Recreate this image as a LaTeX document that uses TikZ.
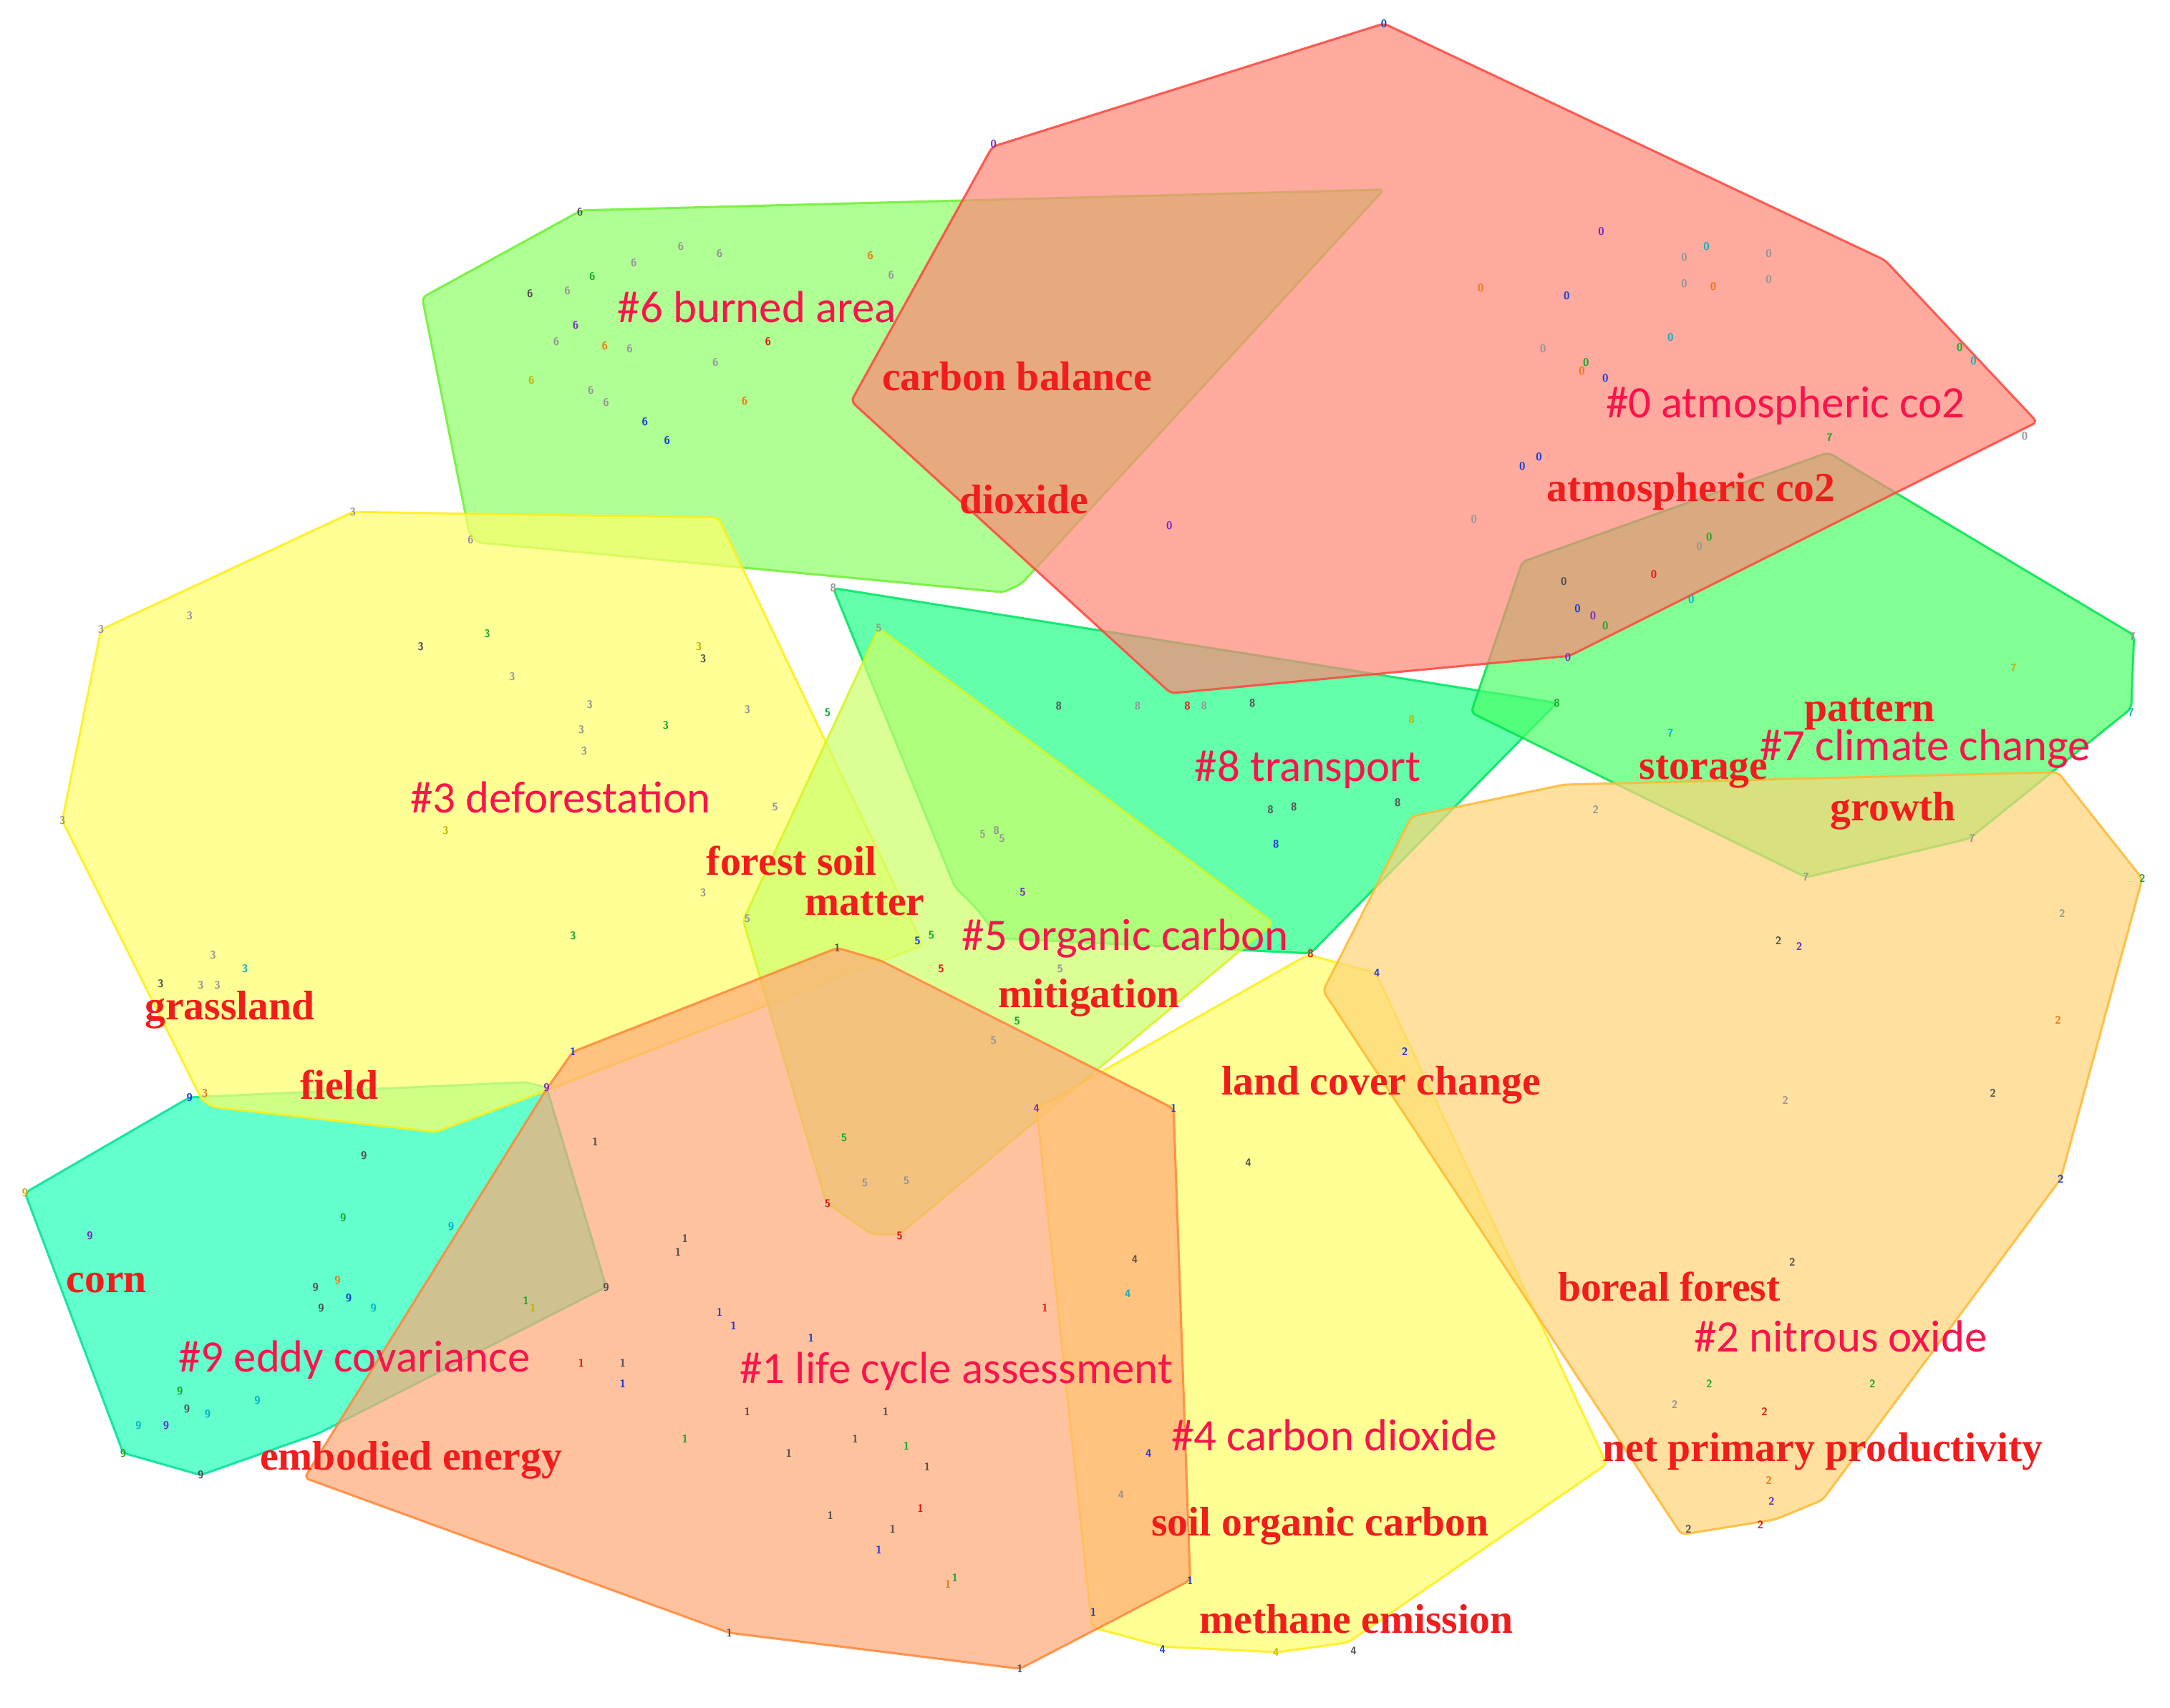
\documentclass[tikz,border=0pt]{standalone}
\usepackage{fontspec}
\newfontfamily\clfont{Carlito}
\newfontfamily\kwfont{Liberation Serif}
\begin{document}
\begin{tikzpicture}[x=0.02cm,y=-0.02cm,
  hull/.style={line width=0.9pt,rounded corners=2pt,fill opacity=0.7,draw opacity=0.85},
  cl/.style={text=clred,font=\clfont\fontsize{18.5}{20}\selectfont,inner sep=0pt},
  kw/.style={text=kwred,font=\kwfont\bfseries\fontsize{17}{18}\selectfont,inner sep=0pt},
  mk/.style={font=\sffamily\bfseries\fontsize{4.5}{4.5}\selectfont,inner sep=0pt}]
\definecolor{clred}{RGB}{250,20,75}
\definecolor{kwred}{RGB}{242,28,28}
\definecolor{f0}{RGB}{255,134,119}\definecolor{b0}{RGB}{255,70,60}
\definecolor{f1}{RGB}{255,169,119}\definecolor{b1}{RGB}{255,135,55}
\definecolor{f2}{RGB}{255,211,119}\definecolor{b2}{RGB}{255,185,50}
\definecolor{f3}{RGB}{255,255,105}\definecolor{b3}{RGB}{255,238,20}
\definecolor{f4}{RGB}{255,255,105}\definecolor{b4}{RGB}{255,238,20}
\definecolor{f5}{RGB}{205,255,105}\definecolor{b5}{RGB}{215,245,30}
\definecolor{f6}{RGB}{142,255,105}\definecolor{b6}{RGB}{110,240,50}
\definecolor{f7}{RGB}{76,255,105}\definecolor{b7}{RGB}{0,228,80}
\definecolor{f8}{RGB}{34,255,134}\definecolor{b8}{RGB}{0,228,100}
\definecolor{f9}{RGB}{34,255,184}\definecolor{b9}{RGB}{0,225,155}
\definecolor{mg}{RGB}{150,150,150}\definecolor{mk}{RGB}{80,80,80}
\definecolor{mb}{RGB}{20,60,220}\definecolor{mp}{RGB}{120,40,200}
\definecolor{mgr}{RGB}{20,170,40}\definecolor{mc}{RGB}{0,180,200}
\definecolor{mo}{RGB}{240,120,20}\definecolor{mr}{RGB}{230,20,20}
\definecolor{my}{RGB}{190,180,0}
\fill[white] (0,0) rectangle (1568,1234);
\useasboundingbox (0,0) rectangle (1568,1234);
% #9
\path[hull,fill=f9,draw=b9] (18,862) -- (137,793) -- (380,782) -- (395,786) -- (438,930) -- (230,1036) -- (145,1066) -- (89,1050) -- cycle;
% #6
\path[hull,fill=f6,draw=b6] (305,215) -- (420,152) -- (1000,137) -- (738,422) -- (725,428) -- (345,392) -- (339,385) -- cycle;
% #8
\path[hull,fill=f8,draw=b8] (602,425) -- (1125,508) -- (947,689) -- (722,678) -- (706,657) -- (690,641) -- cycle;
% #7
\path[hull,fill=f7,draw=b7] (1100,406) -- (1321,327) -- (1542,459) -- (1540,512) -- (1423,606) -- (1305,634) -- (1063,515) -- cycle;
% #3
\path[hull,fill=f3,draw=b3] (73,455) -- (255,370) -- (519,374) -- (667,683) -- (395,788) -- (315,818) -- (154,800) -- (146,795) -- (45,593) -- cycle;
% #5
\path[hull,fill=f5,draw=b5] (635,454) -- (920,667) -- (650,892) -- (630,892) -- (597,869) -- (537,665) -- cycle;
% #4
\path[hull,fill=f4,draw=b4] (749,801) -- (945,690) -- (994,703) -- (1161,1058) -- (974,1187) -- (923,1194) -- (841,1190) -- (789,1176) -- cycle;
% #2
\path[hull,fill=f2,draw=b2] (956,716) -- (1020,590) -- (1130,567) -- (1487,558) -- (1548,635) -- (1489,852) -- (1317,1084) -- (1283,1098) -- (1215,1109) -- cycle;
% #0
\path[hull,fill=f0,draw=b0] (1000,17) -- (1362,188) -- (1472,305) -- (1134,474) -- (846,501) -- (615,290) -- (717,106) -- cycle;
% #1
\path[hull,fill=f1,draw=b1] (414,760) -- (605,685) -- (636,694) -- (848,801) -- (860,1142) -- (737,1206) -- (527,1180) -- (220,1068) -- (395,787) -- cycle;
% markers
\foreach \x/\y/\d/\c [count=\i] in {
1000/17/0/mb,718/104/0/mp,1157/167/0/mp,1217/186/0/mg,1233/178/0/mc,1278/183/0/mg,1070/208/0/mo,1132/214/0/mb,1217/205/0/mg,1238/207/0/mo,1278/202/0/mg,1207/244/0/mc,1115/252/0/mg,1146/262/0/mgr,1143/268/0/mo,1160/273/0/mb,1416/251/0/mgr,1426/261/0/mc,845/380/0/mp,1100/337/0/mb,1112/330/0/mb,1065/375/0/mg,1130/420/0/mk,1228/395/0/mg,1235/388/0/mgr,1140/440/0/mb,1195/415/0/mr,1151/445/0/mp,1160/452/0/mgr,1222/433/0/mc,1133/475/0/mp,1463/315/0/mg,
419/153/6/mk,458/190/6/mg,492/178/6/mg,520/183/6/mg,383/212/6/mk,410/210/6/mg,428/200/6/mgr,416/235/6/mp,402/247/6/mg,437/250/6/mo,455/252/6/mg,517/262/6/mg,384/275/6/my,427/282/6/mg,438/291/6/mg,466/305/6/mb,482/318/6/mb,538/290/6/mo,555/247/6/mr,629/185/6/mo,644/199/6/mg,340/390/6/mg,
255/370/3/mg,137/445/3/mg,73/455/3/mg,45/593/3/mg,304/467/3/mk,352/458/3/mgr,370/489/3/mg,426/509/3/mg,422/543/3/mg,420/527/3/mg,481/524/3/mgr,505/467/3/my,508/476/3/mk,540/513/3/mg,322/600/3/my,508/645/3/mg,414/676/3/mgr,116/711/3/mk,154/690/3/mg,177/700/3/mc,145/712/3/mg,157/712/3/mg,148/790/3/mo,
635/454/5/mg,598/515/5/mgr,560/583/5/mg,540/664/5/mg,663/680/5/mb,673/676/5/mgr,710/603/5/mg,724/606/5/mg,739/645/5/mp,735/738/5/mgr,766/700/5/mg,718/752/5/mg,680/700/5/mr,650/893/5/mr,598/870/5/mr,625/855/5/mg,655/853/5/mg,610/822/5/mgr,
602/425/8/mg,1125/508/8/mgr,947/689/8/mr,765/510/8/mk,822/510/8/mg,858/510/8/mr,870/510/8/mg,905/508/8/mk,935/583/8/mk,918/585/8/mk,922/610/8/mb,1020/520/8/my,1010/580/8/mk,720/600/8/mg,
1541/460/7/mg,1540/515/7/mc,1425/606/7/mg,1305/634/7/mg,1207/530/7/mc,1455/483/7/my,1322/316/7/mgr,
1548/635/2/mgr,1489/852/2/mb,1490/660/2/mg,1285/680/2/mk,1300/684/2/mp,1487/737/2/mo,1440/790/2/mk,1290/795/2/mg,1153/585/2/mg,1015/760/2/mb,1295/912/2/mk,1210/1015/2/mg,1235/1000/2/mgr,1275/1020/2/mr,1353/1000/2/mgr,1220/1105/2/mk,1272/1102/2/mr,1280/1085/2/mp,1278/1070/2/mo,
605/685/1/mk,414/760/1/mb,848/801/1/mb,860/1142/1/mb,737/1206/1/mk,527/1180/1/mk,430/825/1/mk,495/895/1/mk,490/905/1/mk,520/948/1/mb,530/958/1/mb,586/967/1/mb,640/1020/1/mk,618/1040/1/mk,655/1045/1/mgr,670/1060/1/mk,665/1090/1/mr,690/1140/1/mgr,755/945/1/mr,790/1165/1/mb,570/1050/1/mk,495/1040/1/mgr,540/1020/1/mk,420/985/1/mr,450/985/1/mk,450/1000/1/mb,380/940/1/mgr,385/945/1/my,600/1095/1/mk,635/1120/1/mb,645/1105/1/mk,685/1145/1/mo,
995/703/4/mb,749/801/4/mp,902/840/4/mk,820/910/4/mk,815/935/4/mc,830/1050/4/mb,840/1192/4/mb,922/1194/4/my,978/1193/4/mk,810/1080/4/mg,
137/793/9/mb,395/786/9/mp,263/835/9/mk,326/886/9/mc,248/880/9/mgr,65/893/9/mp,228/930/9/mk,232/945/9/mk,270/945/9/mc,252/938/9/mb,244/925/9/mo,18/862/9/my,145/1066/9/mk,89/1050/9/mgr,100/1030/9/mc,120/1030/9/mp,130/1005/9/mgr,150/1022/9/mc,135/1018/9/mk,186/1012/9/mc,438/930/9/mk}
  \node[mk,text=\c] (m\i) at (\x,\y) {\d};
% cluster labels
\node[cl] (c0) at (1290,293) {\#0 atmospheric co2};
\node[cl] (c6) at (547,222) {\#6 burned area};
\node[cl] (c3) at (405,576) {\#3 deforestation};
\node[cl] (c8) at (945,556) {\#8 transport};
\node[cl] (c7) at (1391,541) {\#7 climate change};
\node[cl] (c5) at (813,678) {\#5 organic carbon};
\node[cl] (c9) at (256,983) {\#9 eddy covariance};
\node[cl] (c1) at (691,991) {\#1 life cycle assessment};
\node[cl] (c4) at (964,1037) {\#4 carbon dioxide};
\node[cl] (c2) at (1330,966) {\#2 nitrous oxide};
% keyword labels
\node[kw] (k1) at (735,272) {carbon balance};
\node[kw] (k2) at (740,361) {dioxide};
\node[kw] (k3) at (1222,355) {atmospheric co2};
\node[kw] (k4) at (1351,516) {pattern};
\node[kw] (k5) at (1231,558) {storage};
\node[kw] (k6) at (1368,586) {growth};
\node[kw] (k7) at (572,622) {forest soil};
\node[kw] (k8) at (625,653) {matter};
\node[kw] (k9) at (787,721) {mitigation};
\node[kw] (k10) at (166,730) {grassland};
\node[kw] (k11) at (245,784) {field};
\node[kw] (k12) at (998,784) {land cover change};
\node[kw] (k13) at (77,927) {corn};
\node[kw] (k14) at (1206,930) {boreal forest};
\node[kw] (k15) at (297,1055) {embodied energy};
\node[kw] (k16) at (1317,1049) {net primary productivity};
\node[kw] (k17) at (954,1103) {soil organic carbon};
\node[kw] (k18) at (980,1170) {methane emission};
\end{tikzpicture}
\end{document}
